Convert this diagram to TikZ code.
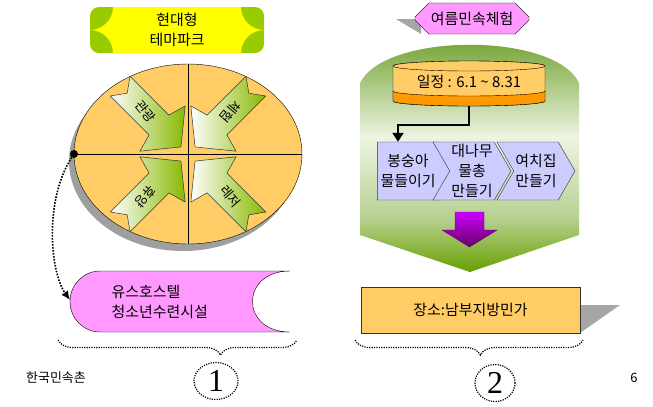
\documentclass[tikz,border=0pt]{standalone}
\usepackage{fontspec}
\newfontfamily\kr{Noto Sans CJK KR}
\newfontfamily\digitfont{Liberation Serif}
\usepackage{tikz}
\usetikzlibrary{shapes.geometric,shapes.misc,shapes.symbols,arrows.meta,decorations.pathreplacing}
\definecolor{plaqueyellow}{HTML}{FFFF00}
\definecolor{plaquegreen}{HTML}{99CC00}
\definecolor{wheelorange}{HTML}{FFCC66}
\definecolor{spokegreen}{HTML}{88B800}
\definecolor{hostelpink}{HTML}{FF99FF}
\definecolor{domegreen}{HTML}{6A9E26}
\definecolor{domelight}{HTML}{EEF4E2}
\definecolor{domemid}{HTML}{B6D08E}
\definecolor{domebottom}{HTML}{66A000}
\definecolor{bandorange}{HTML}{FF9900}
\definecolor{lavender}{HTML}{CCCCFF}
\definecolor{plum}{HTML}{CC00FF}
\definecolor{darkplum}{HTML}{660066}
\pgfdeclareverticalshading{dome}{100bp}{color(0bp)=(domebottom); color(25bp)=(domebottom);
        color(36bp)=(domemid); color(53bp)=(domelight); color(75bp)=(domegreen); color(100bp)=(domegreen)}
\tikzstyle{kortext}=[font=\kr\fontsize{15}{20}\selectfont]
\tikzstyle{spoke}=[draw=black!80, line width=0.5bp, left color=white, right color=spokegreen]
\tikzstyle{spoketext}=[font=\kr\fontsize{13}{13}\selectfont, inner sep=0pt]
\tikzstyle{knob}=[circle, fill=black, minimum size=8bp, inner sep=0pt]
\tikzstyle{dotlink}=[line width=1.6bp, dash pattern=on 1.6bp off 1.4bp, -{Latex[length=9bp,width=8bp]}]
\tikzstyle{chev}=[kortext, signal, signal pointer angle=120, draw=black!80, fill=lavender,
        minimum width=78bp, minimum height=58bp, inner sep=0pt, align=center]
\tikzstyle{badge}=[kortext, chamfered rectangle, chamfered rectangle xsep=7bp, chamfered rectangle ysep=7bp,
        draw, fill=hostelpink, minimum width=114bp, minimum height=31bp, inner sep=0pt]
\tikzstyle{sitebox}=[kortext, draw=black!80, fill=wheelorange, minimum width=219bp, minimum height=46bp]
\tikzstyle{elbow}=[line width=1.8bp, -{Triangle[length=9bp,width=11bp]}]
\tikzstyle{bracket}=[line width=1.2bp, dash pattern=on 1.2bp off 1.2bp, decorate]
\tikzstyle{numring}=[ellipse, draw, line width=1.2bp, dash pattern=on 1.2bp off 1.2bp,
        inner sep=0pt, font=\digitfont\fontsize{32}{32}\selectfont]

\begin{document}
\begin{tikzpicture}[x=1bp, y=-1bp]
        \useasboundingbox (0,0) rectangle (653,406);

        % theme park plaque
        \fill[plaquegreen, rounded corners=9bp] (90,7) rectangle (264,53);
        \fill[plaqueyellow] (113,7) -- (241,7) arc[start angle=180, end angle=90, radius=23]
                arc[start angle=270, end angle=180, radius=23] -- (113,53)
                arc[start angle=0, end angle=-90, radius=23] arc[start angle=90, end angle=0, radius=23] -- cycle;
        \node[kortext, align=center] (theme) at (177,30) {현대형\\테마파크};

        % wheel
        \fill[gray!75] (183,161) ellipse[x radius=114, y radius=90];
        \draw[fill=wheelorange] (188,154) ellipse[x radius=114, y radius=90];
        \draw (188,64) -- (188,244);
        \draw (74,154) -- (302,154);

        \foreach \ang/\word/\tilt [count=\i] in {-45/관광/-50, -135/체험/-130, 45/휴양/-130, 135/레저/-50} {
            \begin{scope}[shift={(188,154)}, rotate=\ang]
                \draw[spoke] (-10,0) -- (-36,32) -- (-41,14) -- (-96,14) -- (-86,0) -- (-96,-14)
                        -- (-41,-14) -- (-36,-32) -- cycle;
                \node[spoketext, rotate=\tilt] (word\i) at (-60,0) {\word};
            \end{scope}
        }

        \node[knob] (knob) at (74,154) {};

        % youth hostel
        \draw[fill=hostelpink] (100,271) -- (290,271) .. controls (240,271) and (240,332) .. (290,332)
                -- (100,332) arc[start angle=90, end angle=270, x radius=30, y radius=30.5] -- cycle;
        \coordinate (hostel) at (70,300);
        \node[kortext, align=left, anchor=west] (hosteltext) at (108,302) {유스호스텔\\청소년수련시설};
        \draw[dotlink] (knob) .. controls (44,200) and (50,272) .. (hostel);

        % summer programme
        \fill[gray!70] (396,19) -- (421,19) -- (421,34) -- cycle;
        \node[badge] (summer) at (472,18.5) {여름민속체험};

        \shade[shading=dome]
                (360,235) -- (360,83) .. controls (385,32) and (555,32) .. (579,83) -- (579,235) -- (470,272) -- cycle;

        \draw[fill=wheelorange] (393,66) -- (393,101) arc[start angle=180, end angle=0, x radius=76, y radius=5]
                -- (545,66) arc[start angle=0, end angle=-180, x radius=76, y radius=5] -- cycle;
        \draw[fill=bandorange] (393,91) arc[start angle=180, end angle=0, x radius=76, y radius=5]
                -- (545,101) arc[start angle=0, end angle=180, x radius=76, y radius=5] -- cycle;
        \draw[fill=wheelorange] (469,66) ellipse[x radius=76, y radius=5];
        \node[kortext] (sched) at (469,82) {일정 : 6.1 \textasciitilde{} 8.31};
        \coordinate (schedbase) at (469,106);

        \node[chev] (c1) at (408,171) {봉숭아\\물들이기};
        \node[chev, signal from=west] (c2) at (472,171) {대나무\\물총\\만들기};
        \node[chev, signal from=west] (c3) at (536,171) {여치집\\만들기};

        \draw[elbow] (schedbase) -- ++(0,19) -| ([xshift=-10bp]c1.north);

        \draw[top color=plum, bottom color=darkplum, draw=darkplum]
                (455,212) -- (484,212) -- (484,230) -- (497,230) -- (469.5,247) -- (442,230) -- (455,230) -- cycle;

        % place
        \fill[gray!70] (580,305) -- (620,305) -- (580,333) -- cycle;
        \node[sitebox] (site) at (470.5,310) {장소:남부지방민가};

        % braces and numbers
        \draw[bracket, decoration={brace, mirror, amplitude=15bp, aspect=0.68}] (58,340) -- (297,340);
        \draw[bracket, decoration={brace, mirror, amplitude=15bp, aspect=0.55}] (355,340) -- (583,340);
        \node[numring, minimum width=44bp, minimum height=37bp] (one) at (216,381) {1};
        \node[numring, minimum width=40bp, minimum height=37bp] (two) at (495,383) {2};

        \node[font=\kr\fontsize{13}{13}\selectfont] (village) at (56,378) {한국민속촌};
        \node[font=\kr\fontsize{13}{13}\selectfont] (pageno) at (634,378) {6};
\end{tikzpicture}
\end{document}
